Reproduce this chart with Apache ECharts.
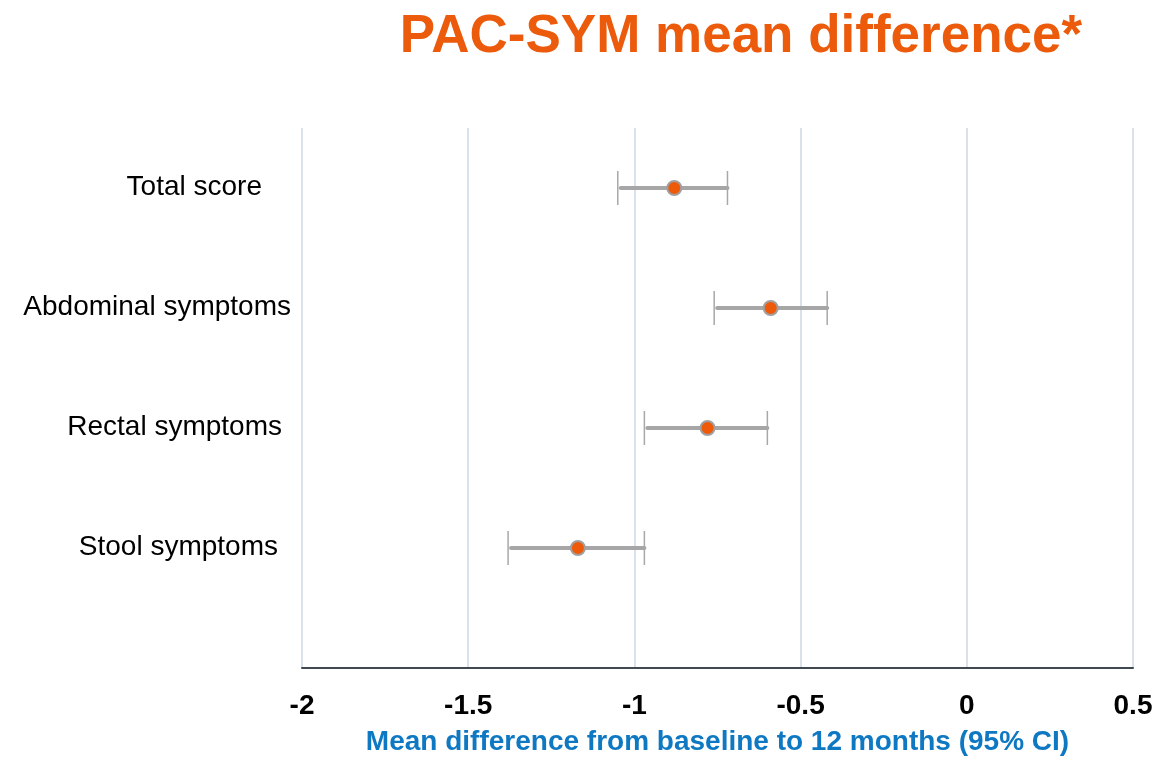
<!DOCTYPE html>
<html>
<head>
<meta charset="utf-8">
<script src="https://cdn.jsdelivr.net/npm/echarts@6/dist/echarts.min.js"></script>
<style>html,body{margin:0;padding:0;background:#fff}#c{width:1171px;height:758px}</style>
</head>
<body>
<div id="c"></div>
<script>
const categories = ['Total score', 'Abdominal symptoms', 'Rectal symptoms', 'Stool symptoms'];
const means = [-0.88, -0.59, -0.78, -1.17];
const lower = [-1.05, -0.76, -0.97, -1.38];
const upper = [-0.72, -0.42, -0.60, -0.97];
const xTicks = [-2, -1.5, -1, -0.5, 0, 0.5];

const n = categories.length;
const rowOf = i => n - i;            // Total score on top
const labelPad = [29, 0, 9, 13];     // per-label extra right padding

const rich = {};
categories.forEach((c, i) => {
  rich['l' + i] = { fontSize: 28, fontFamily: 'Liberation Sans, Arial, sans-serif', color: '#000', padding: [0, labelPad[i], 2, 0] };
});

const chart = echarts.init(document.getElementById('c'), null, { renderer: 'canvas' });
chart.setOption({
  animation: false,
  backgroundColor: '#fff',
  title: {
    text: 'PAC-SYM mean difference*',
    left: 736,
    textAlign: 'center',
    top: 6,
    textStyle: { color: '#EC5A0B', fontSize: 53, fontWeight: 'bold', fontFamily: 'Liberation Sans, Arial, sans-serif' }
  },
  grid: { left: 302, right: 38, top: 128, bottom: 90, containLabel: false, outerBoundsMode: 'none' },
  xAxis: {
    type: 'value',
    min: -2, max: 0.5, interval: 0.5,
    name: 'Mean difference from baseline to 12 months (95% CI)',
    nameLocation: 'middle',
    nameGap: 60,
    nameTextStyle: { color: '#0E78C2', fontSize: 28, fontWeight: 'bold', fontFamily: 'Liberation Sans, Arial, sans-serif' },
    axisLine: { show: true, onZero: false, lineStyle: { color: '#3f4850', width: 2 } },
    axisTick: { show: false },
    axisLabel: {
      margin: 24, color: '#000', fontSize: 28, fontWeight: 'bold', fontFamily: 'Liberation Sans, Arial, sans-serif',
      formatter: v => xTicks.includes(v) ? String(v) : ''
    },
    splitLine: { show: true, lineStyle: { color: '#D9E2EA', width: 2 } }
  },
  yAxis: {
    type: 'value',
    min: 0, max: n + 0.5, interval: 0.5,
    axisLine: { show: false },
    axisTick: { show: false },
    splitLine: { show: false },
    axisLabel: {
      margin: 11,
      rich: rich,
      formatter: v => {
        for (let i = 0; i < n; i++) if (Math.abs(v - rowOf(i)) < 1e-6) return '{l' + i + '|' + categories[i] + '}';
        return '';
      }
    }
  },
  series: [
    {
      type: 'custom',
      data: categories.map((c, i) => [lower[i], upper[i], rowOf(i)]),
      renderItem: (params, api) => {
        const p1 = api.coord([api.value(0), api.value(2)]);
        const p2 = api.coord([api.value(1), api.value(2)]);
        const h = 17;
        return {
          type: 'group',
          children: [
            { type: 'line', shape: { x1: p1[0] + 3, y1: p1[1], x2: p2[0], y2: p2[1] }, style: { stroke: '#A6A6A6', lineWidth: 4, lineCap: 'round' } },
            { type: 'line', shape: { x1: p1[0], y1: p1[1] - h, x2: p1[0], y2: p1[1] + h }, style: { stroke: '#A8A8A8', lineWidth: 1.5 } },
            { type: 'line', shape: { x1: p2[0], y1: p2[1] - h, x2: p2[0], y2: p2[1] + h }, style: { stroke: '#A8A8A8', lineWidth: 1.5 } }
          ]
        };
      },
      z: 2
    },
    {
      type: 'scatter',
      data: categories.map((c, i) => [means[i], rowOf(i)]),
      symbol: 'circle',
      symbolSize: 14,
      itemStyle: { color: '#EE5A0A', borderColor: '#A0A0A0', borderWidth: 2, opacity: 1 },
      z: 3
    }
  ]
});
</script>
</body>
</html>
